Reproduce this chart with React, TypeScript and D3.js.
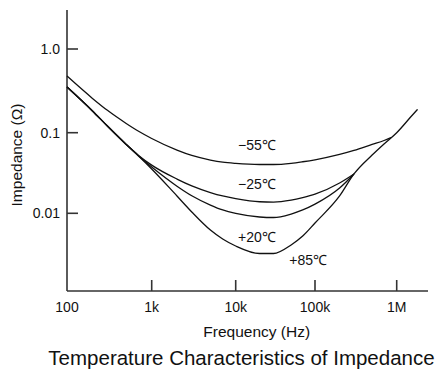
import * as d3 from "d3";

// [frequency Hz, impedance ohm]
const minus55: [number, number][] = [
  [100, 0.475], [200, 0.257], [300, 0.185], [500, 0.129], [700, 0.104], [1000, 0.0848],
  [2000, 0.0608], [3000, 0.0522], [5000, 0.0458], [7000, 0.0431], [10000, 0.0416],
  [20000, 0.0403], [30000, 0.0403], [50000, 0.0417], [70000, 0.0436], [100000, 0.0461],
  [200000, 0.0537], [300000, 0.0602], [500000, 0.0715], [700000, 0.08], [850000, 0.0871],
];
const minus25: [number, number][] = [
  [100, 0.352], [200, 0.182], [300, 0.12], [500, 0.0715], [700, 0.0522], [1000, 0.0396],
  [2000, 0.0266], [3000, 0.0219], [5000, 0.0181], [7000, 0.0164], [10000, 0.0152],
  [20000, 0.0139], [30000, 0.0138], [50000, 0.0146], [70000, 0.0157], [100000, 0.0173],
  [200000, 0.0238], [300000, 0.0308],
];
const plus20: [number, number][] = [
  [100, 0.352], [200, 0.182], [300, 0.12], [500, 0.0715], [700, 0.0514], [1000, 0.0375],
  [2000, 0.0217], [3000, 0.0165], [5000, 0.01265], [7000, 0.011], [10000, 0.00997],
  [20000, 0.009], [30000, 0.00887], [50000, 0.0098], [70000, 0.011], [100000, 0.013],
  [200000, 0.0206], [300000, 0.0308],
];
const plus85: [number, number][] = [
  [100, 0.352], [200, 0.182], [300, 0.12], [500, 0.0715], [700, 0.0514], [1000, 0.0355],
  [2000, 0.0164], [3000, 0.0104], [5000, 0.0062], [7000, 0.0048], [10000, 0.00393],
  [20000, 0.00317], [30000, 0.00317], [50000, 0.00405], [70000, 0.00522], [100000, 0.00758],
  [200000, 0.0164], [300000, 0.0308], [500000, 0.0528], [700000, 0.0725], [1000000, 0.1],
  [1500000, 0.156], [1800000, 0.19],
];

const series = [
  { name: "−55℃", data: minus55, label: [1.85e4, 0.061] as [number, number] },
  { name: "−25℃", data: minus25, label: [1.85e4, 0.02] as [number, number] },
  { name: "+20℃", data: plus20, label: [1.85e4, 0.00444] as [number, number] },
  { name: "+85℃", data: plus85, label: [8.2e4, 0.00229] as [number, number] },
];

const xTicks = [100, 1000, 10000, 100000, 1000000];
const xTickLabels = ["100", "1k", "10k", "100k", "1M"];
const yTicks = [0.01, 0.1, 1];
const yTickLabels = ["0.01", "0.1", "1.0"];

const W = 443;
const H = 372;

export default function App() {
  const x = d3.scaleLog().domain(xTicks).range([67, 151.7, 235.7, 315, 396.7]);
  const y = d3.scaleLog().domain(yTicks).range([213.3, 132.7, 49]);
  const axisTop = 10;
  const axisBottom = 291;
  const axisLeft = 67;
  const axisRight = 428;
  const tick = 11;

  const line = d3
    .line<[number, number]>()
    .x((d) => x(d[0]))
    .y((d) => y(d[1]))
    .curve(d3.curveMonotoneX);

  const font = "'Liberation Sans', Arial, Helvetica, sans-serif";

  return (
    <svg
      width={W}
      height={H}
      style={{ position: "absolute", left: 0, top: 0, background: "#fff" }}
      fontFamily={font}
    >
      <rect width={W} height={H} fill="#fff" />
      {/* axes */}
      <line x1={axisLeft} x2={axisLeft} y1={axisTop} y2={axisBottom} stroke="#333" strokeWidth={1.6} />
      <line x1={axisLeft} x2={axisRight} y1={axisBottom} y2={axisBottom} stroke="#333" strokeWidth={1.6} />
      {xTicks.map((t, i) => (
        <g key={t}>
          {i > 0 && (
            <line x1={x(t)} x2={x(t)} y1={axisBottom} y2={axisBottom - tick} stroke="#333" strokeWidth={1.6} />
          )}
          <text x={x(t)} y={311.5} textAnchor="middle" fontSize={14} fill="#111">
            {xTickLabels[i]}
          </text>
        </g>
      ))}
      {yTicks.map((t, i) => (
        <g key={t}>
          <line x1={axisLeft} x2={axisLeft + tick} y1={y(t)} y2={y(t)} stroke="#333" strokeWidth={1.6} />
          <text x={60} y={y(t)} dy="0.36em" textAnchor="end" fontSize={14} fill="#111">
            {yTickLabels[i]}
          </text>
        </g>
      ))}
      {/* curves */}
      {series.map((s) => (
        <path key={s.name} d={line(s.data) ?? ""} fill="none" stroke="#111" strokeWidth={1.3} />
      ))}
      {series.map((s) => (
        <text
          key={s.name + "l"}
          x={x(s.label[0])}
          y={y(s.label[1])}
          textAnchor="middle"
          fontSize={14}
          fill="#111"
        >
          {s.name}
        </text>
      ))}
      {/* axis titles */}
      <text x={256.7} y={336.5} textAnchor="middle" fontSize={15.5} fill="#111">
        Frequency (Hz)
      </text>
      <text
        transform={`translate(22,155) rotate(-90)`}
        textAnchor="middle"
        fontSize={15.5}
        fill="#111"
      >
        Impedance (Ω)
      </text>
      <text x={241.5} y={365} textAnchor="middle" fontSize={20.5} fill="#111">
        Temperature Characteristics of Impedance
      </text>
    </svg>
  );
}
